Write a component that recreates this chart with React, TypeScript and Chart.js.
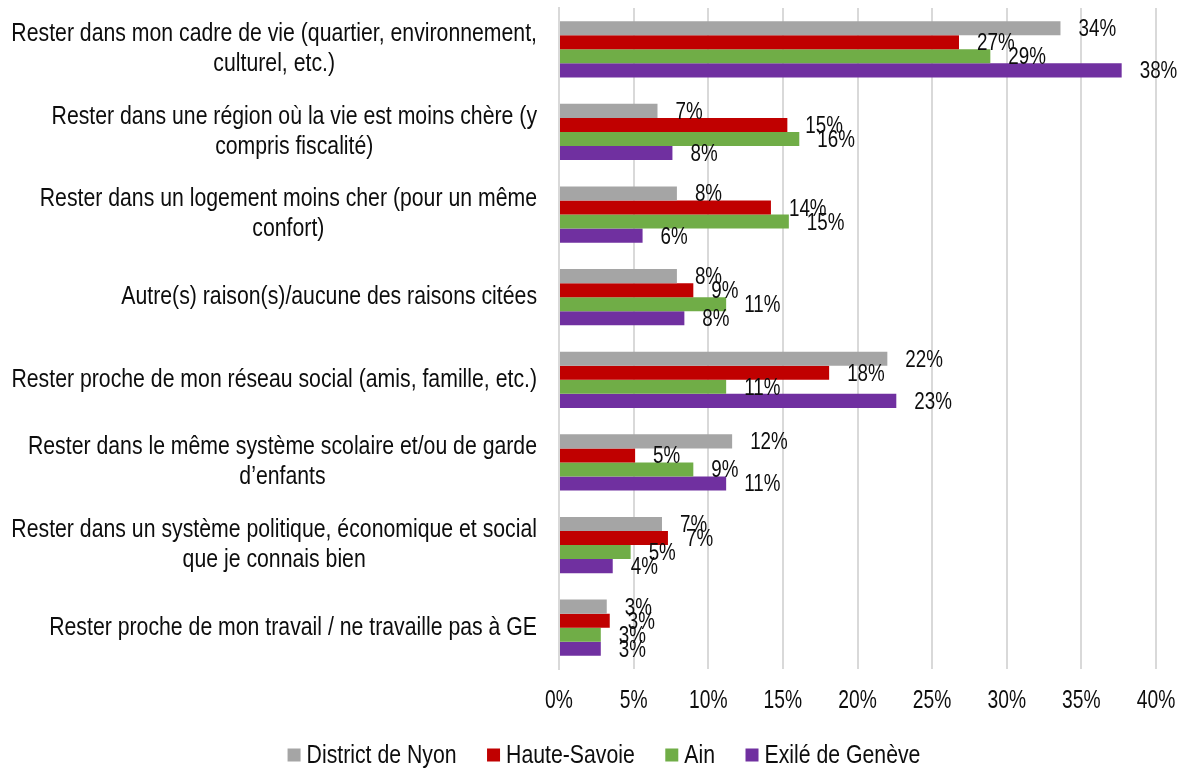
import React, { useEffect, useRef } from 'react';
import { Chart, registerables } from 'chart.js';

Chart.register(...registerables);

// ---------- data ----------
const categories: string[][] = [
  ['Rester dans mon cadre de vie (quartier, environnement,', 'culturel, etc.)'],
  ['Rester dans une région où la vie est moins chère (y', 'compris fiscalité)'],
  ['Rester dans un logement moins cher (pour un même', 'confort)'],
  ['Autre(s) raison(s)/aucune des raisons citées'],
  ['Rester proche de mon réseau social (amis, famille, etc.)'],
  ['Rester dans le même système scolaire et/ou de garde', 'd’enfants'],
  ['Rester dans un système politique, économique et social', 'que je connais bien'],
  ['Rester proche de mon travail / ne travaille pas à GE'],
];

const seriesNames = ['District de Nyon', 'Haute-Savoie', 'Ain', 'Exilé de Genève'];
const seriesColors = ['#A5A5A5', '#C00000', '#70AD47', '#7030A0'];

const districtNyon = [33.6, 6.6, 7.9, 7.9, 22.0, 11.6, 6.9, 3.2];
const hauteSavoie = [26.8, 15.3, 14.2, 9.0, 18.1, 5.1, 7.3, 3.4];
const ain = [28.9, 16.1, 15.4, 11.2, 11.2, 9.0, 4.8, 2.8];
const exileGeneve = [37.7, 7.6, 5.6, 8.4, 22.6, 11.2, 3.6, 2.8];

const xTickValues = [0, 5, 10, 15, 20, 25, 30, 35, 40];

// ---------- text helpers ----------
const FONT = "'Liberation Sans', Arial, sans-serif";
const TEXT_COLOR = '#0d0d0d';

function drawText(
  ctx: CanvasRenderingContext2D,
  text: string,
  x: number,
  y: number,
  size: number,
  sx: number,
  align: CanvasTextAlign
) {
  ctx.save();
  ctx.translate(x, y);
  ctx.scale(sx, 1);
  ctx.font = `${size}px ${FONT}`;
  ctx.textAlign = align;
  ctx.textBaseline = 'middle';
  ctx.fillStyle = TEXT_COLOR;
  ctx.fillText(text, 0, 0);
  ctx.restore();
}

function textWidth(ctx: CanvasRenderingContext2D, text: string, size: number, sx: number) {
  ctx.save();
  ctx.font = `${size}px ${FONT}`;
  const w = ctx.measureText(text).width * sx;
  ctx.restore();
  return w;
}

const textPlugin = {
  id: 'customText',
  afterDraw(chart: any) {
    const ctx: CanvasRenderingContext2D = chart.ctx;
    const xScale = chart.scales.x;
    const yScale = chart.scales.y;

    // category labels (right aligned block, centered lines)
    const catSize = 25;
    const catSx = 0.85;
    const catRight = 537;
    const lineH = 30;
    categories.forEach((lines, i) => {
      const cy = yScale.getPixelForValue(i);
      const blockW = Math.max(...lines.map((l) => textWidth(ctx, l, catSize, catSx)));
      const cx = catRight - blockW / 2;
      lines.forEach((ln, j) => {
        drawText(ctx, ln, cx, cy + (j - (lines.length - 1) / 2) * lineH, catSize, catSx, 'center');
      });
    });

    // x tick labels
    xTickValues.forEach((v) => {
      drawText(ctx, `${v}%`, xScale.getPixelForValue(v), 701, 25, 0.77, 'center');
    });

    // data labels
    chart.data.datasets.forEach((ds: any, i: number) => {
      const meta = chart.getDatasetMeta(i);
      meta.data.forEach((bar: any, j: number) => {
        const v = ds.data[j];
        drawText(ctx, `${Math.round(v)}%`, bar.x + 18, bar.y + 1.5, 23.5, 0.8, 'left');
      });
    });

    // legend
    const legSize = 25;
    const legSx = 0.85;
    const box = 13;
    const boxGap = 6;
    const itemGap = 30.5;
    const widths = seriesNames.map((n) => textWidth(ctx, n, legSize, legSx));
    const total =
      widths.reduce((a, b) => a + b, 0) + seriesNames.length * (box + boxGap) + (seriesNames.length - 1) * itemGap;
    let x = 604 - total / 2;
    const ly = 755;
    seriesNames.forEach((n, i) => {
      ctx.save();
      ctx.fillStyle = seriesColors[i];
      ctx.fillRect(x, ly - box / 2, box, box);
      ctx.restore();
      drawText(ctx, n, x + box + boxGap, ly + 1.5, legSize, legSx, 'left');
      x += box + boxGap + widths[i] + itemGap;
    });
  },
};

export default function App() {
  const canvasRef = useRef<HTMLCanvasElement | null>(null);

  useEffect(() => {
    if (!canvasRef.current) return;
    const seriesValues = [districtNyon, hauteSavoie, ain, exileGeneve];
    const chart = new Chart(canvasRef.current, {
      type: 'bar',
      data: {
        labels: categories,
        datasets: seriesNames.map((name, i) => ({
          label: name,
          data: seriesValues[i],
          backgroundColor: seriesColors[i],
          borderWidth: 0,
          categoryPercentage: 0.68,
          barPercentage: 1.0,
        })),
      },
      options: {
        indexAxis: 'y',
        animation: false,
        responsive: true,
        maintainAspectRatio: false,
        layout: { padding: { left: 559, right: 31, top: 8, bottom: 103 } },
        plugins: {
          legend: { display: false },
          tooltip: { enabled: false },
        },
        scales: {
          x: {
            min: 0,
            max: 40,
            ticks: { display: false, stepSize: 5 },
            grid: { color: '#d9d9d9', lineWidth: 2, drawTicks: false },
            border: { display: false },
          },
          y: {
            ticks: { display: false },
            grid: { display: false, drawTicks: false },
            border: { display: true, color: '#d9d9d9', width: 2 },
          },
        },
      },
      plugins: [textPlugin],
    });
    return () => chart.destroy();
  }, []);

  return (
    <div style={{ position: 'absolute', left: 0, top: 0, width: 1187, height: 772, background: '#fff' }}>
      <canvas ref={canvasRef} />
    </div>
  );
}
